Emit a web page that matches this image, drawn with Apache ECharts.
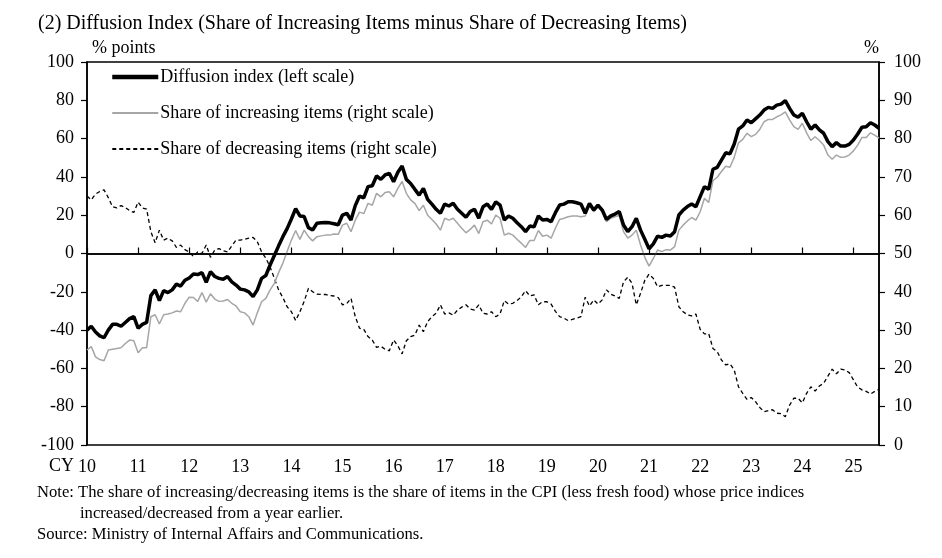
<!DOCTYPE html>
<html>
<head>
<meta charset="utf-8">
<script src="https://cdn.jsdelivr.net/npm/echarts@6/dist/echarts.min.js"></script>
<style>
html,body{margin:0;padding:0;background:#fff;}
#chart{width:942px;height:558px;}
</style>
</head>
<body>
<div id="chart"></div>
<script>
// Monthly, Jan 2010 - Jul 2025
var diffusionIndex = [
-40,-38,-41,-43,-44,-40,-37,-37,-38,-36,-34,-33,
-39,-37,-36,-22,-19,-24.6,-19.4,-20.4,-19,-16,-17,-14,
-12.8,-10.7,-11,-10,-15,-9.5,-12,-13,-13.4,-12,-14.8,-16.5,
-18.6,-19,-20,-22.5,-19,-13,-11.5,-6,-1,4,8.8,13,
18,23.4,19.6,19.3,13.5,12.3,15.8,16,16.2,16,15.5,15,
20.1,21,17.5,25,30,29,34.9,35.4,40.5,38.7,41,41.9,
37.5,42.4,45.7,38.7,36.6,33.5,30.5,34,28.3,25.8,23.1,21,
25.8,24.8,26.2,23.1,21,18.9,21.9,23.1,18.4,24.4,25.8,23.1,
27,25.3,17.5,19.6,18.4,16.1,14,11.4,14.4,13.9,19.6,17.5,
17.8,16.6,21.3,25.3,25.8,27,27,26.5,25.8,21,26.2,22.7,
25.3,22.7,17.8,19.6,20.6,21.9,14.9,11.4,14,18.4,12.2,7.4,
2.5,5,9.1,8.4,9.6,9.1,11.4,20.1,22.7,24.5,25.8,24.4,
29.7,34.9,33.5,44,45,48.8,52.6,52,57.2,64.9,66.6,69.7,
68.3,70.3,72.3,74.9,76.3,75.8,77.5,78,79.8,75.8,72.3,71.2,
73.2,68.8,64.9,67.1,64.5,62.8,58.4,55.8,57.9,56.1,56.1,57,
59.3,62.4,65.9,66.2,68.3,67.1,65.4
];
var shareIncreasing = [
24.8,25.7,23,22.3,22,24.8,25,25.2,25.4,26.5,27.4,27.2,
24.1,25.4,25.4,33.5,34,31.6,34,34.2,34.5,35,34.8,37,
38.6,38.5,37.5,39.8,37.3,39.5,38.1,37.5,37.6,38,37,36.3,
34.8,34.5,33.5,31.3,34.5,37.4,38.3,40.5,42.2,45,47.5,50.5,
53.5,56,53.7,56.1,54.4,53.3,54.4,54.6,54.8,54.8,55.1,55,
57.4,57.9,55.7,58.7,60.8,60.4,63.1,62.6,65.7,64.8,65.9,66.1,
64.8,67,68.8,65.7,64,63.1,61.2,62.6,60,58.9,57.7,56.1,
59.2,58.7,59.2,57.9,56.6,55.4,56.3,57.4,55.2,58.3,58.7,57.7,
60,59.2,54.8,55.3,54.8,53.7,52.7,51.6,53.4,53.4,56,54.5,
54.8,54,56.6,58.9,59.2,59.6,59.8,59.8,59.6,59.8,62.7,60.9,
62.2,60.9,58.3,59.2,59.6,60,55.7,54,54.8,56.1,52.2,49,
46.7,48.7,50.9,50.5,51,50.9,51.8,56.1,57.4,58.5,59.4,58.7,
60.9,64.4,63.3,69,69.9,71.4,72.8,72.5,75.1,78.9,79.8,81.4,
80.5,81.1,82.4,84.4,85,85,85.7,86.2,87,84.9,83.1,82.4,
84,81.5,79.5,80.5,79.5,78.3,75.7,74.6,75.7,75.1,75.2,75.7,
76.8,78.3,80.3,80.3,81.5,80.9,80.1
];
var shareDecreasing = [
65,64,65.5,66.2,66.6,64.6,62.2,61.9,62.5,62,61.2,60.7,
63.4,61.9,61.6,55.7,52.8,56.1,53.5,54,53.3,51.6,52.2,51,
50.4,49.2,50.4,50,52.2,49,50.9,51.3,50.7,50.4,52,53.5,
53.5,53.7,54,54.2,53.1,50.4,48.8,46.5,43.5,40.5,38.5,36.1,
34.8,32.5,34.8,37.5,40.9,40,39.4,39.3,39.3,39,38.9,38.5,
36.6,36.9,38.3,33.5,30.5,30.2,28.3,27.4,25.5,25.8,25,24.6,
27.4,25.9,23.8,27.2,28.3,28.7,31.3,29.6,32.2,33.5,34.4,36.6,
34.2,34.5,33.9,35.2,36,36.6,35.5,35.2,36.6,34.4,34.2,34.8,
33.5,34.2,37.7,36.8,37,37.7,38.7,40.3,38.9,39.2,36.6,37.4,
37.4,36.8,34.9,33.5,33.1,32.5,32.8,33.1,33.5,38.6,36.3,37.9,
36.8,37.9,40.5,39.4,38.9,38.3,42.6,43.8,42.2,36.6,39.6,43,
44.6,43.5,41.3,41.7,41.7,41.7,41.2,36.1,34.8,34,33.7,34.2,
30.2,29,29.1,25.2,24.4,22.2,20.9,21.2,19.6,15.2,13.5,11.9,
12.4,11.3,9.8,8.7,9,9.2,8.3,8.2,7.4,10.4,12.2,12.2,
11,13.5,15.2,14.1,15.4,16.1,18,19.8,18.6,19.8,19.6,18.9,
17,15.1,14.4,14,13.3,14,14.5
];
var seriesNames = ['Diffusion index (left scale)', 'Share of increasing items (right scale)', 'Share of decreasing items (right scale)'];
var leftTicks = {min: -100, max: 100, interval: 20};
var rightTicks = {min: 0, max: 100, interval: 10};

// month categories
var months = [];
for (var i = 0; i < diffusionIndex.length; i++) {
  var y = 2010 + Math.floor(i / 12), m = (i % 12) + 1;
  months.push(y + '/' + (m < 10 ? '0' + m : m));
}

var FONT = '"Liberation Serif", "Times New Roman", serif';
var chart = echarts.init(document.getElementById('chart'), null, {renderer: 'canvas'});
chart.setOption({
  backgroundColor: '#fff',
  animation: false,
  textStyle: {fontFamily: FONT, color: '#000'},
  title: {
    text: '(2) Diffusion Index (Share of Increasing Items minus Share of Decreasing Items)',
    left: 33, top: 9,
    textStyle: {fontFamily: FONT, fontSize: 20, fontWeight: 'normal', color: '#000'}
  },
  grid: {left: 87, right: 63, top: 62, bottom: 113, show: true, borderColor: '#000', borderWidth: 1.5, containLabel: false},
  legend: {
    orient: 'vertical', left: 105, top: 63,
    itemWidth: 46, itemHeight: 14, itemGap: 18,
    itemStyle: {color: 'transparent', borderColor: 'transparent', borderWidth: 0},
    textStyle: {fontFamily: FONT, fontSize: 18, color: '#000', padding: [0, 0, 0, -3]},
    data: [
      {name: seriesNames[0], lineStyle: {width: 4.5}},
      {name: seriesNames[1]},
      {name: seriesNames[2]}
    ]
  },
  xAxis: {
    type: 'category', data: months, boundaryGap: false,
    axisLine: {lineStyle: {color: '#000', width: 1.5}},
    axisTick: {inside: true, length: 6, interval: 11, lineStyle: {color: '#000', width: 1.2}},
    axisLabel: {interval: 11, margin: 13, fontFamily: FONT, fontSize: 18, color: '#000',
      formatter: function (v) { return v.slice(2, 4); }},
    splitLine: {show: false}
  },
  yAxis: [
    {type: 'value', min: leftTicks.min, max: leftTicks.max, interval: leftTicks.interval,
      name: '% points', nameLocation: 'end', nameGap: 5,
      nameTextStyle: {fontFamily: FONT, fontSize: 18, color: '#000', align: 'left', padding: [0, 0, 0, 5]},
      axisLine: {show: true, lineStyle: {color: '#000', width: 1.5}},
      axisTick: {show: true, length: 6, lineStyle: {color: '#000', width: 1.2}},
      axisLabel: {margin: 13, fontFamily: FONT, fontSize: 18, color: '#000'},
      splitLine: {show: false}},
    {type: 'value', min: rightTicks.min, max: rightTicks.max, interval: rightTicks.interval,
      name: '%', nameLocation: 'end', nameGap: 5,
      nameTextStyle: {fontFamily: FONT, fontSize: 18, color: '#000', align: 'right', padding: [0, 0, 0, 0]},
      axisLine: {show: true, lineStyle: {color: '#000', width: 1.5}},
      axisTick: {show: true, length: 6, lineStyle: {color: '#000', width: 1.2}},
      axisLabel: {margin: 15, fontFamily: FONT, fontSize: 18, color: '#000'},
      splitLine: {show: false}}
  ],
  graphic: [
    {type: 'text', left: 49, top: 457, style: {text: 'CY', font: '18px ' + FONT, fill: '#000'}},
    {type: 'text', left: 37, top: 484, style: {text: 'Note: The share of increasing/decreasing items is the share of items in the CPI (less fresh food) whose price indices', font: '16.6px ' + FONT, fill: '#000'}},
    {type: 'text', left: 80, top: 505, style: {text: 'increased/decreased from a year earlier.', font: '16.6px ' + FONT, fill: '#000'}},
    {type: 'text', left: 37, top: 526, style: {text: 'Source: Ministry of Internal Affairs and Communications.', font: '16.6px ' + FONT, fill: '#000'}}
  ],
  series: [
    {name: seriesNames[0], type: 'line', yAxisIndex: 0, data: diffusionIndex, symbol: 'none', z: 5,
      lineStyle: {color: '#000', width: 3.5}, itemStyle: {color: '#000'},
      markLine: {silent: true, symbol: 'none', label: {show: false},
        lineStyle: {color: '#000', width: 1.5, type: 'solid'}, data: [{yAxis: 0}]}},
    {name: seriesNames[1], type: 'line', yAxisIndex: 1, data: shareIncreasing, symbol: 'none', z: 4,
      lineStyle: {color: '#a6a6a6', width: 1.5}, itemStyle: {color: '#a6a6a6'}},
    {name: seriesNames[2], type: 'line', yAxisIndex: 1, data: shareDecreasing, symbol: 'none', z: 3,
      lineStyle: {color: '#000', width: 1.3, type: [4, 3]}, itemStyle: {color: '#000'}}
  ]
});
</script>
</body>
</html>
